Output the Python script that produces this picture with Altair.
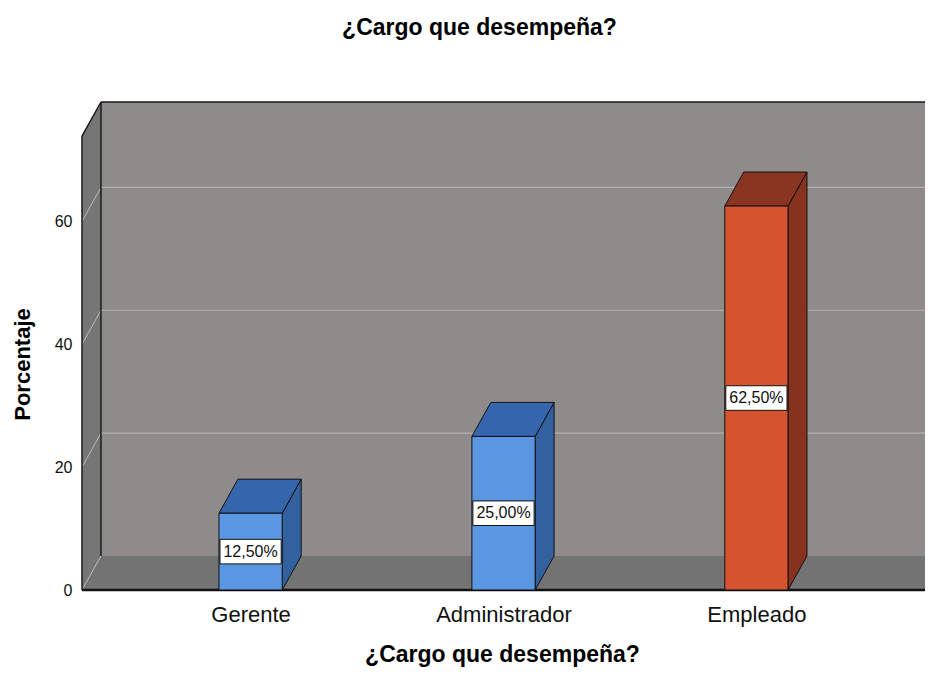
import json
import altair as alt
import pandas as pd

# ---------------- data ----------------
categories = ["Gerente", "Administrador", "Empleado"]
percent = [12.5, 25.0, 62.5]
value_labels = ["12,50%", "25,00%", "62,50%"]
y_ticks = [0, 20, 40, 60]

# ---------------- style ----------------
front_colors = ["#5b96e3", "#5b96e3", "#d5532f"]
side_colors = ["#33609f", "#33609f", "#86321f"]
top_colors = ["#3566ab", "#3566ab", "#8a3522"]
FONT = "Liberation Sans"

# geometry of the 3-D box in data units
X0, X1 = 1 / 3, 11 / 3      # front plane category extent
TOP = 73.9                  # front plane top (percent)
DX, DY = 0.075, 5.54        # depth offset
HW = 0.125                  # half bar width
BOX_HW, BOX_HH = 0.121, 2.0 # label box half sizes

pos = list(range(1, len(categories) + 1))

xs = alt.Scale(domain=[X0, X1], nice=False, zero=False)
ys = alt.Scale(domain=[0, TOP + DY], nice=False, zero=False)

label_expr = json.dumps([""] + categories) + "[datum.value]"

x_axis = alt.Axis(values=pos, labelExpr=label_expr, title="¿Cargo que desempeña?",
                  domain=False, ticks=False, grid=False,
                  labelFontSize=22, labelPadding=14,
                  labelFont=FONT, labelColor="#111111",
                  titleFont=FONT, titleFontSize=23, titleFontWeight="bold",
                  titleColor="black", titleX=420, titleY=71,
                  titleBaseline="alphabetic", titleAlign="center")
y_axis = alt.Axis(values=y_ticks, title="Porcentaje", domain=False, ticks=False,
                  grid=False, labelFontSize=16, labelPadding=10,
                  labelFont=FONT, labelColor="#111111",
                  titleFont=FONT, titleFontSize=22, titleFontWeight="bold",
                  titleColor="black", titleX=-60, titleY=262,
                  titleBaseline="middle", titleAlign="center")

# ---------------- box ----------------
back_df = pd.DataFrame({"x": [X0 + DX], "x2": [X1 + DX], "y": [DY], "y2": [TOP + DY]})
back = alt.Chart(back_df).mark_rect(fill="#8f8b8b").encode(
    x=alt.X("x:Q", scale=xs, axis=x_axis), x2="x2",
    y=alt.Y("y:Q", scale=ys, axis=y_axis), y2="y2")

gb = [v for v in y_ticks if v > 0]
grid_back_df = pd.DataFrame({"x": [X0 + DX] * len(gb), "x2": [X1 + DX] * len(gb),
                             "y": [v + DY for v in gb]})
grid_back = alt.Chart(grid_back_df).mark_rule(color="#b3b1b1", strokeWidth=1.2).encode(
    x=alt.X("x:Q"), x2="x2", y=alt.Y("y:Q"))

floor_df = pd.DataFrame({"y": [0, DY], "x": [X0, X0 + DX], "x2": [X1, X1 + DX]})
floor = alt.Chart(floor_df).mark_area(orient="horizontal", color="#737373").encode(
    y=alt.Y("y:Q"), x=alt.X("x:Q"), x2="x2")

wall_df = pd.DataFrame({"x": [X0, X0 + DX], "y": [0, DY], "y2": [TOP, TOP + DY]})
wall = alt.Chart(wall_df).mark_area(orient="vertical", color="#767676").encode(
    x=alt.X("x:Q"), y=alt.Y("y:Q"), y2="y2")

grid_side_df = pd.DataFrame({"x": [X0] * len(y_ticks), "x2": [X0 + DX] * len(y_ticks),
                             "y": y_ticks, "y2": [v + DY for v in y_ticks]})
grid_side = alt.Chart(grid_side_df).mark_rule(color="#b9b9b9", strokeWidth=1).encode(
    x=alt.X("x:Q"), x2="x2", y=alt.Y("y:Q"), y2="y2")

edges_df = pd.DataFrame({
    "x":  [X0, X0, X0 + DX, X0 + DX, X1],
    "y":  [0, TOP, DY, TOP + DY, 0],
    "x2": [X0, X0 + DX, X0 + DX, X1 + DX, X1 + DX],
    "y2": [TOP, TOP + DY, TOP + DY, TOP + DY, DY],
})
edges = alt.Chart(edges_df).mark_rule(color="#1a1a1a", strokeWidth=1.5).encode(
    x=alt.X("x:Q"), x2="x2", y=alt.Y("y:Q"), y2="y2")

base_df = pd.DataFrame({"x": [X0], "x2": [X1], "y": [0]})
base_line = alt.Chart(base_df).mark_rule(color="#111111", strokeWidth=2.5).encode(
    x=alt.X("x:Q"), x2="x2", y=alt.Y("y:Q"))

# ---------------- bars ----------------
bars = pd.DataFrame({"cat": categories, "pos": pos, "v": percent, "label": value_labels})
bars["x"] = bars["pos"] - HW
bars["x2"] = bars["pos"] + HW
bars["y"] = 0.0
bars["mid"] = bars["v"] / 2

side_rows, top_rows = [], []
for c, p, v in zip(categories, pos, percent):
    side_rows.append({"side": c, "x": p + HW, "y": 0.0, "y2": v})
    side_rows.append({"side": c, "x": p + HW + DX, "y": DY, "y2": v + DY})
    top_rows.append({"topc": c, "y": v, "x": p - HW, "x2": p + HW})
    top_rows.append({"topc": c, "y": v + DY, "x": p - HW + DX, "x2": p + HW + DX})
side_df = pd.DataFrame(side_rows)
top_df = pd.DataFrame(top_rows)

side = alt.Chart(side_df).mark_area(orient="vertical", stroke="#111111", strokeWidth=1).encode(
    x=alt.X("x:Q"), y=alt.Y("y:Q"), y2="y2",
    detail="side:N",
    fill=alt.Fill("side:N", scale=alt.Scale(domain=categories, range=side_colors), legend=None))

top = alt.Chart(top_df).mark_area(orient="horizontal", stroke="#111111", strokeWidth=1).encode(
    y=alt.Y("y:Q"), x=alt.X("x:Q"), x2="x2",
    detail="topc:N",
    fill=alt.Fill("topc:N", scale=alt.Scale(domain=categories, range=top_colors), legend=None))

front = alt.Chart(bars).mark_rect(stroke="#111111", strokeWidth=1).encode(
    x=alt.X("x:Q"), x2="x2", y=alt.Y("y:Q"), y2="v",
    fill=alt.Fill("cat:N", scale=alt.Scale(domain=categories, range=front_colors), legend=None))

boxes_df = pd.DataFrame({"x": bars["pos"] - BOX_HW, "x2": bars["pos"] + BOX_HW,
                         "y": bars["mid"] - BOX_HH, "y2": bars["mid"] + BOX_HH})
boxes = alt.Chart(boxes_df).mark_rect(fill="white", stroke="#111111", strokeWidth=1).encode(
    x=alt.X("x:Q"), x2="x2", y=alt.Y("y:Q"), y2="y2")

texts_df = pd.DataFrame({"x": bars["pos"], "y": bars["mid"], "label": bars["label"]})
texts = alt.Chart(texts_df).mark_text(font=FONT, fontSize=16, color="#111111",
                                      align="center", baseline="middle").encode(
    x=alt.X("x:Q"), y=alt.Y("y:Q"), text="label:N")

chart = alt.layer(
    back, grid_back, floor, wall, grid_side, edges, base_line,
    side, top, front, boxes, texts
).resolve_scale(
    fill="independent"
).properties(
    width=843, height=488,
    title=alt.TitleParams("¿Cargo que desempeña?", font=FONT, fontSize=23,
                          fontWeight="bold", color="black", anchor="middle",
                          frame="group", dx=-24, offset=43, baseline="alphabetic"),
    autosize=alt.AutoSizeParams(type="none"),
    padding={"left": 74, "top": 94, "right": 0, "bottom": 84},
    background="white",
).configure_view(stroke=None)

chart.save("out.html", embed_options={"renderer": "svg", "actions": False})
